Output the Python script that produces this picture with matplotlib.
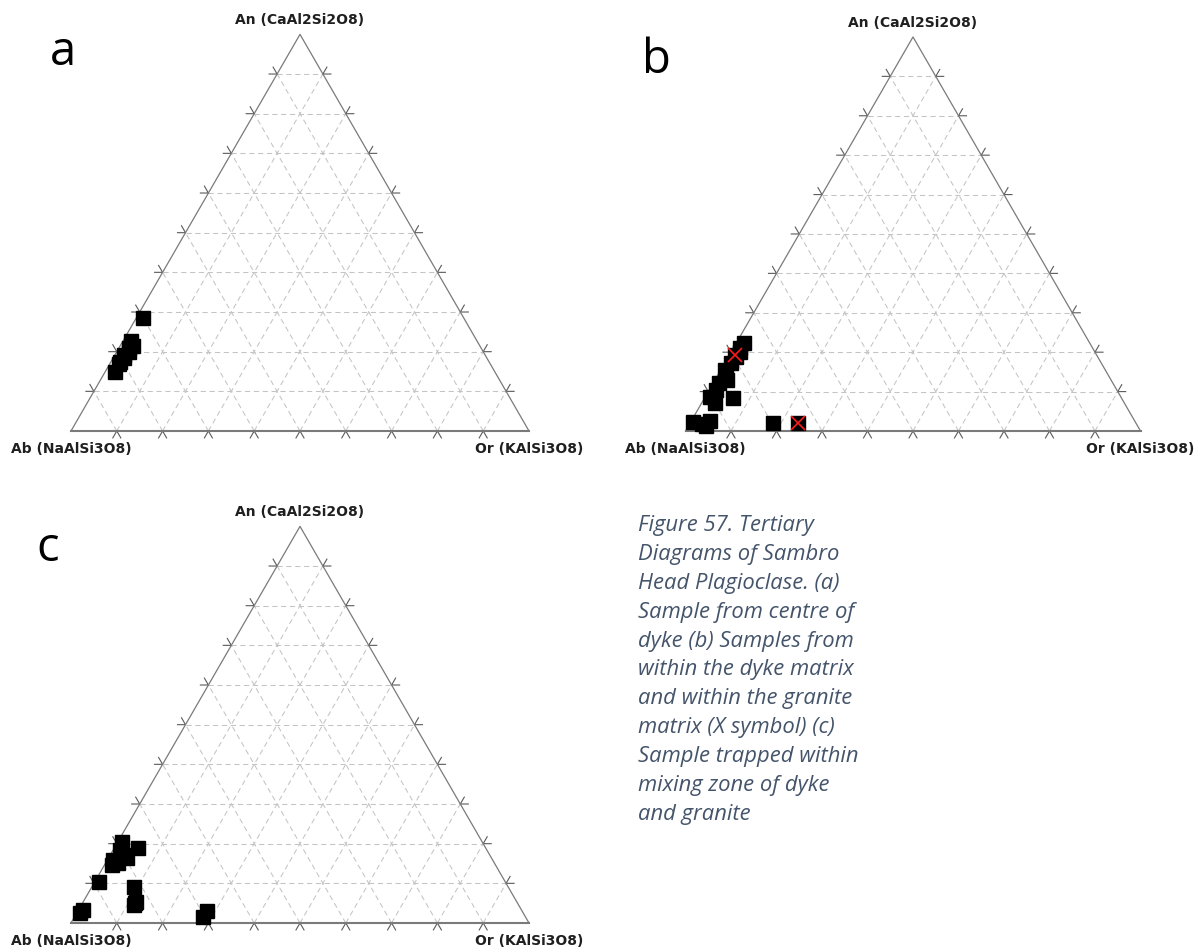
import numpy as np
import matplotlib
matplotlib.use("Agg")
import matplotlib.pyplot as plt

W, H, DPI = 1197, 951, 100
S3 = np.sqrt(3) / 2

# ---------------- data (An %, Or %; Ab = 100 - An - Or) ----------------
a_an = [28.6, 22.8, 21.5, 20.8, 20.0, 19.2, 18.3, 17.5, 16.8, 14.9]
a_or = [1.5, 1.6, 2.8, 2.2, 2.6, 2.0, 2.4, 1.9, 2.1, 2.2]

b_dyke_an = [22.3, 21.0, 20.0, 18.9, 17.2, 15.5, 14.0, 12.9, 12.1, 10.5,
             8.7, 7.0, 8.3, 2.2, 1.8, 2.5, 1.3, 2.1]
b_dyke_or = [1.6, 1.4, 2.0, 1.6, 1.3, 0.9, 1.8, 2.6, 1.4, 1.5,
             1.1, 3.0, 6.3, 0.5, 2.7, 4.1, 3.9, 18.1]
b_gran_an = [19.3, 2.1]
b_gran_or = [1.3, 23.6]

c_an = [20.5, 19.0, 18.4, 17.2, 16.3, 15.9, 15.1, 14.6, 10.4, 9.2,
        5.0, 4.5, 5.4, 2.4, 3.3, 1.6, 2.9]
c_or = [0.8, 5.1, 1.5, 2.8, 4.0, 1.3, 2.8, 1.6, 1.0, 9.2,
        11.5, 11.5, 11.6, 0.8, 1.0, 28.1, 28.2]

apex_label = "An (CaAl2Si2O8)"
left_label = "Ab (NaAlSi3O8)"
right_label = "Or (KAlSi3O8)"
grid_levels = [10, 20, 30, 40, 50, 60, 70, 80, 90]

panel_letters = ["a", "b", "c"]
caption_lines = [
    "Figure 57. Tertiary",
    "Diagrams of Sambro",
    "Head Plagioclase. (a)",
    "Sample from centre of",
    "dyke (b) Samples from",
    "within the dyke matrix",
    "and within the granite",
    "matrix (X symbol) (c)",
    "Sample trapped within",
    "mixing zone of dyke",
    "and granite",
]


def tern(an, orr):
    an = np.asarray(an, float) / 100.0
    orr = np.asarray(orr, float) / 100.0
    return orr + an / 2.0, an * S3


def make_panel(fig, left_px, base_px, width_px):
    h_px = width_px * S3
    padx, pad_top, pad_bot = 75, 45, 35
    x0 = left_px - padx
    x1 = left_px + width_px + padx
    ytop = base_px - h_px - pad_top
    ybot = base_px + pad_bot
    ax = fig.add_axes([x0 / W, (H - ybot) / H, (x1 - x0) / W, (ybot - ytop) / H])
    ax.set_xlim(-padx / width_px, 1 + padx / width_px)
    ax.set_ylim(-pad_bot / width_px, (h_px + pad_top) / width_px)
    ax.axis("off")

    gc = "#c4c4c4"
    dash = (0, (5, 3.5))
    for lv in grid_levels:
        f = lv / 100.0
        ax.plot([f / 2, 1 - f / 2], [f * S3, f * S3], color=gc, lw=0.75, ls=dash, zorder=1)
        ax.plot([f, (1 + f) / 2], [0, (1 - f) * S3], color=gc, lw=0.75, ls=dash, zorder=1)
        ax.plot([1 - f, (1 - f) / 2], [0, (1 - f) * S3], color=gc, lw=0.75, ls=dash, zorder=1)

    # ticks
    L = 8.0 / width_px
    tc = "#5a5a5a"
    for lv in grid_levels:
        f = lv / 100.0
        ax.plot([f - 0.5 * L, f, f + 0.5 * L], [-S3 * L, 0, -S3 * L], color=tc, lw=0.8, zorder=2)
        px, py = f / 2, f * S3
        ax.plot([px - L, px, px - 0.5 * L], [py, py, py + S3 * L], color=tc, lw=0.8, zorder=2)
        px, py = 1 - f / 2, f * S3
        ax.plot([px + L, px, px + 0.5 * L], [py, py, py + S3 * L], color=tc, lw=0.8, zorder=2)

    ec = "#7a7a7a"
    ax.plot([0, 0.5, 1], [0, S3, 0], color=ec, lw=0.9, zorder=3)
    ax.plot([0, 1], [0, 0], color=ec, lw=1.5, zorder=3)

    lab = dict(fontsize=10, fontweight="bold", family="DejaVu Sans", color="#1f1f1f",
               ha="center", va="center", annotation_clip=False)
    ax.annotate(apex_label, (0.5, S3), xytext=(0, 14 * 0.72), textcoords="offset points", **lab)
    ax.annotate(left_label, (0, 0), xytext=(0, -18 * 0.72), textcoords="offset points", **lab)
    ax.annotate(right_label, (1, 0), xytext=(0, -18 * 0.72), textcoords="offset points", **lab)
    return ax


fig = plt.figure(figsize=(W / DPI, H / DPI), dpi=DPI)
fig.patch.set_facecolor("white")

ms = 9.4
axa = make_panel(fig, 71, 431, 458)
x, y = tern(a_an, a_or)
axa.plot(x, y, "s", color="black", ms=ms, zorder=5, clip_on=False)

axb = make_panel(fig, 685.5, 431, 455)
x, y = tern(b_dyke_an, b_dyke_or)
axb.plot(x, y, "s", color="black", ms=ms, zorder=5, clip_on=False)
x, y = tern(b_gran_an, b_gran_or)
axb.plot(x, y, "s", color="black", ms=ms, zorder=6, clip_on=False)
axb.plot(x, y, "x", color="#ff1a1a", ms=ms, mew=1.2, zorder=7, clip_on=False)

axc = make_panel(fig, 71, 923, 458)
x, y = tern(c_an, c_or)
axc.plot(x, y, "s", color="black", ms=ms, zorder=5, clip_on=False)

letter_pos = [(50, 65), (642, 73), (36, 561)]
for t, (px, py) in zip(panel_letters, letter_pos):
    fig.text(px / W, 1 - py / H, t, fontsize=34, family="Open Sans",
             ha="left", va="baseline", color="black")

for i, line in enumerate(caption_lines):
    fig.text(638 / W, 1 - (531 + 28.9 * i) / H, line, fontsize=15.8, family="Open Sans",
             style="italic", color="#44546A", ha="left", va="baseline")

fig.savefig("out.png", dpi=DPI, facecolor="white")
